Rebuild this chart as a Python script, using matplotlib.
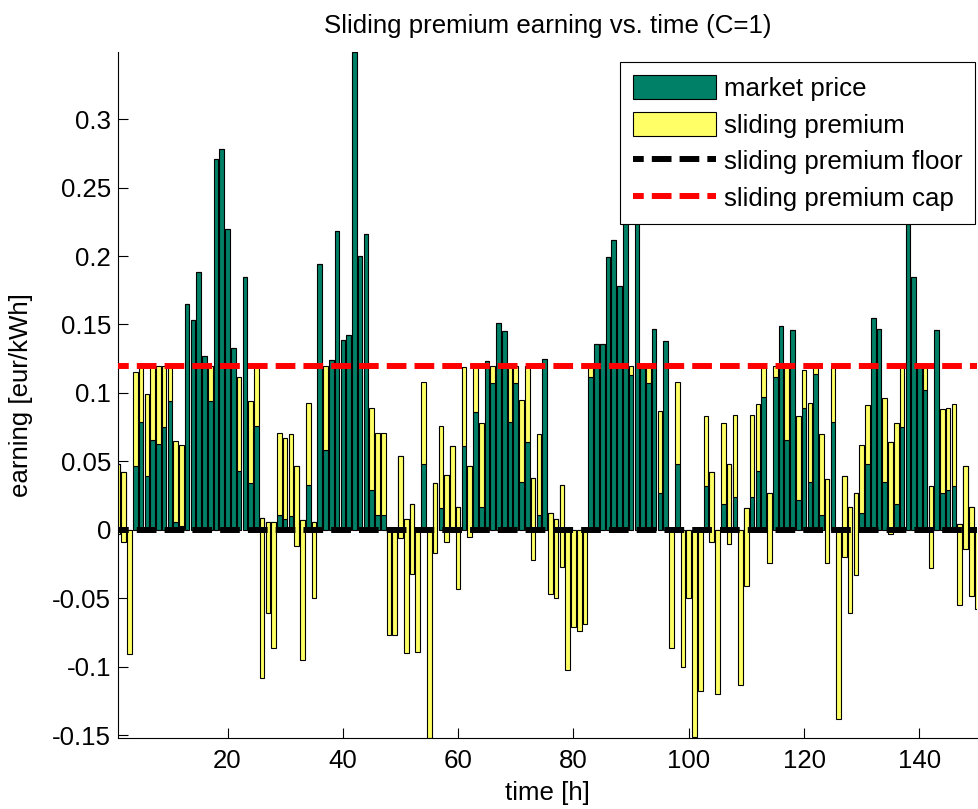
import matplotlib
matplotlib.use("Agg")
import matplotlib.pyplot as plt
import numpy as np

# hourly values
hours = np.arange(1, 151)

market_price = [
    0.048, 0.042, 0.000, 0.047, 0.079, 0.039, 0.066, 0.063, 0.075, 0.094,
    0.006, 0.003, 0.165, 0.153, 0.188, 0.127, 0.094, 0.271, 0.278, 0.220,
    0.133, 0.043, 0.185, 0.034, 0.076, 0.009, 0.006, 0.006, 0.011, 0.008,
    0.010, 0.047, 0.007, 0.033, 0.006, 0.194, 0.058, 0.124, 0.218, 0.139,
    0.142, 0.349, 0.200, 0.216, 0.029, 0.011, 0.011, 0.000, 0.000, 0.054,
    0.008, 0.019, 0.000, 0.048, 0.000, 0.034, 0.016, 0.040, 0.061, 0.017,
    0.061, 0.047, 0.086, 0.017, 0.123, 0.107, 0.151, 0.145, 0.079, 0.107,
    0.035, 0.064, 0.038, 0.011, 0.125, 0.012, 0.008, 0.033, 0.000, 0.000,
    0.000, 0.000, 0.112, 0.136, 0.136, 0.199, 0.212, 0.178, 0.235, 0.113,
    0.260, 0.118, 0.107, 0.147, 0.027, 0.138, 0.000, 0.048, 0.000, 0.000,
    0.000, 0.000, 0.032, 0.042, 0.000, 0.019, 0.048, 0.024, 0.000, 0.016,
    0.024, 0.043, 0.097, 0.027, 0.112, 0.149, 0.066, 0.146, 0.022, 0.089,
    0.035, 0.114, 0.011, 0.037, 0.079, 0.000, 0.039, 0.017, 0.027, 0.012,
    0.048, 0.155, 0.147, 0.035, 0.064, 0.019, 0.075, 0.245, 0.185, 0.119,
    0.102, 0.032, 0.146, 0.027, 0.029, 0.032, 0.004, 0.047, 0.017, 0.000,
]

sliding_premium = [
    -0.051, -0.051, -0.091, 0.068, 0.041, 0.060, 0.054, 0.057, 0.045, 0.026,
    0.059, 0.059, 0.000, 0.000, 0.000, 0.000, 0.026, 0.000, 0.000, 0.000,
    0.000, 0.069, 0.000, 0.060, 0.043, -0.117, -0.067, -0.092, 0.060, 0.059,
    0.060, -0.059, -0.102, 0.060, -0.056, 0.000, 0.062, 0.000, 0.000, 0.000,
    0.000, 0.000, 0.000, 0.000, 0.060, 0.060, 0.060, -0.077, -0.077, -0.060,
    -0.098, -0.051, -0.089, 0.060, -0.152, -0.051, 0.060, -0.049, -0.061, -0.060,
    0.058, -0.052, 0.034, 0.061, 0.000, 0.013, 0.000, 0.000, 0.041, 0.013,
    0.060, 0.056, -0.060, 0.059, 0.000, -0.059, -0.058, -0.060, -0.102, -0.071,
    -0.074, -0.069, 0.008, 0.000, 0.000, 0.000, 0.000, 0.000, 0.000, 0.007,
    0.000, 0.000, 0.013, 0.000, 0.060, 0.000, -0.086, 0.060, -0.100, -0.050,
    -0.151, -0.118, 0.051, -0.051, -0.120, 0.059, -0.058, 0.060, -0.113, -0.057,
    0.060, 0.049, 0.023, -0.051, 0.008, 0.000, 0.054, 0.000, 0.061, 0.028,
    0.058, 0.006, 0.059, -0.061, 0.041, -0.138, -0.059, -0.078, -0.060, 0.050,
    0.043, 0.000, 0.000, 0.061, -0.067, 0.059, 0.045, 0.000, 0.000, 0.000,
    0.018, -0.060, 0.000, 0.061, 0.060, 0.060, -0.059, -0.061, -0.065, -0.058,
]

premium_floor = 0.0
premium_cap = 0.12

ytick_values = [-0.15, -0.1, -0.05, 0, 0.05, 0.1, 0.15, 0.2, 0.25, 0.3]
ytick_labels = ["-0.15", "-0.1", "-0.05", "0", "0.05", "0.1", "0.15", "0.2", "0.25", "0.3"]
xtick_values = [20, 40, 60, 80, 100, 120, 140]

plt.rcParams["font.family"] = ["Liberation Sans", "DejaVu Sans"]
FS = 18.6

W, H = 979, 809
fig = plt.figure(figsize=(W / 100, H / 100), dpi=100)
ax = fig.add_axes([118 / W, 1 - 738 / H, (977 - 118) / W, (738 - 52) / H])

green = "#008066"
yellow = "#ffff66"

b1 = ax.bar(hours, market_price, width=0.8, color=green, edgecolor="black",
            linewidth=0.8, zorder=2)
b2 = ax.bar(hours, sliding_premium, bottom=market_price, width=0.8, color=yellow,
            edgecolor="black", linewidth=0.8, zorder=2)

dash = (1.5, (3.3, 1.35))
l1, = ax.plot([hours[0], hours[-1]], [premium_floor, premium_floor], color="black",
              lw=4.3, linestyle=dash, dash_capstyle="butt", zorder=3)
l2, = ax.plot([hours[0], hours[-1]], [premium_cap, premium_cap], color="#ff0000",
              lw=4.3, linestyle=dash, dash_capstyle="butt", zorder=3)

ax.set_xlim(1, 150)
ax.set_ylim(-0.152, 0.349)
ax.set_xticks(xtick_values)
ax.set_yticks(ytick_values)
ax.set_yticklabels(ytick_labels)
ax.tick_params(direction="in", length=7, width=0.8, labelsize=FS)
ax.tick_params(axis="y", pad=5)
ax.tick_params(axis="x", pad=8)

ax.spines["top"].set_visible(False)
ax.spines["right"].set_visible(False)

ax.set_title("Sliding premium earning vs. time (C=1)", fontsize=FS, pad=14)
ax.set_xlabel("time [h]", fontsize=FS, labelpad=6)
ax.set_ylabel("earning [eur/kWh]", fontsize=FS, labelpad=14)

leg = ax.legend([b1, b2, l1, l2],
                ["market price", "sliding premium", "sliding premium floor",
                 "sliding premium cap"],
                loc="upper right", bbox_to_anchor=(0.998, 0.985),
                borderaxespad=0, fontsize=FS, handlelength=3.2,
                handleheight=1.05, handletextpad=0.3, labelspacing=0.42,
                borderpad=0.5, fancybox=False, framealpha=1)
leg.get_frame().set_edgecolor("black")
leg.get_frame().set_linewidth(0.8)

fig.savefig("out.png", dpi=100)
